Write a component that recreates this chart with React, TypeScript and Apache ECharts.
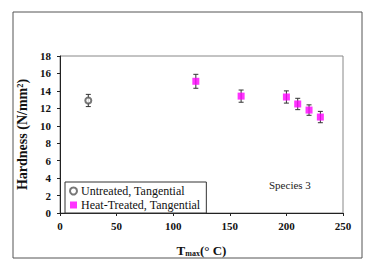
import React, { useEffect, useRef } from "react";
import * as echarts from "echarts";

const untreatedX = [25];
const untreatedY = [12.9];
const untreatedErr = [0.7];

const heatX = [120, 160, 200, 210, 220, 230];
const heatY = [15.1, 13.4, 13.3, 12.5, 11.8, 11.0];
const heatErr = [0.8, 0.7, 0.7, 0.65, 0.6, 0.65];

const xTicks = { min: 0, max: 250, interval: 50 };
const yTicks = { min: 0, max: 18, interval: 2 };

const FONT = "Liberation Serif";

export default function App() {
  const ref = useRef<HTMLDivElement>(null);
  useEffect(() => {
    if (!ref.current) return;
    const chart = echarts.init(ref.current, null, { renderer: "svg" });
    const errData = [
      ...untreatedX.map((x, i) => [x, untreatedY[i] - untreatedErr[i], untreatedY[i] + untreatedErr[i]]),
      ...heatX.map((x, i) => [x, heatY[i] - heatErr[i], heatY[i] + heatErr[i]]),
    ];
    chart.setOption({
      animation: false,
      backgroundColor: "#fff",
      grid: {
        left: 60,
        right: 27,
        top: 56,
        bottom: 49,
        containLabel: false,
        show: true,
        borderColor: "#888",
        borderWidth: 1,
      },
      xAxis: {
        type: "value",
        min: xTicks.min,
        max: xTicks.max,
        interval: xTicks.interval,
        splitLine: { show: false },
        axisLine: { show: true, onZero: false, lineStyle: { color: "#222", width: 1 } },
        axisTick: { show: true, length: 3, lineStyle: { color: "#222" } },
        axisLabel: { color: "#111", fontFamily: FONT, fontWeight: "bold", fontSize: 11, margin: 7 },
        name: "{a|T}{s|max}{a|(° C)}",
        nameLocation: "middle",
        nameGap: 30,
        nameTextStyle: {
          rich: {
            a: { fontFamily: FONT, fontWeight: "bold", fontSize: 13, color: "#111" },
            s: { fontFamily: FONT, fontWeight: "bold", fontSize: 8, color: "#111", padding: [6, 0, 0, 0] },
          },
        },
      },
      yAxis: {
        type: "value",
        min: yTicks.min,
        max: yTicks.max,
        interval: yTicks.interval,
        splitLine: { show: false },
        axisLine: { show: true, onZero: false, lineStyle: { color: "#222", width: 1 } },
        axisTick: { show: true, length: 3, lineStyle: { color: "#222" } },
        axisLabel: { color: "#111", fontFamily: FONT, fontWeight: "bold", fontSize: 11, margin: 9 },
        name: "Hardness (N/mm²)",
        nameLocation: "middle",
        nameGap: 28,
        nameTextStyle: { fontFamily: FONT, fontWeight: "bold", fontSize: 14, color: "#111" },
      },
      legend: {
        data: ["Untreated, Tangential", "Heat-Treated, Tangential"],
        orient: "vertical",
        left: 65,
        top: 182,
        itemWidth: 7,
        itemHeight: 7,
        itemGap: 2,
        padding: [3, 6, 2, 4],
        borderColor: "#333",
        borderWidth: 1,
        borderRadius: 0,
        backgroundColor: "#fff",
        textStyle: { fontFamily: FONT, fontSize: 12, color: "#111", padding: [0, 0, 0, -1] },
      },
      graphic: [
        {
          type: "rect",
          shape: { x: 13, y: 12, width: 349, height: 246 },
          style: { fill: "none", stroke: "#555", lineWidth: 1 },
          z: 100,
          silent: true,
        },
        {
          type: "text",
          x: 269,
          y: 185,
          style: { text: "Species 3", fontFamily: FONT, fontSize: 11, fill: "#222", textVerticalAlign: "middle" },
        },
      ],
      series: [
        {
          type: "custom",
          name: "err",
          z: 1,
          renderItem: (params: any, api: any) => {
            const x = api.value(0);
            const lo = api.coord([x, api.value(1)]);
            const hi = api.coord([x, api.value(2)]);
            const w = 2.5;
            const st = { stroke: "#333", lineWidth: 1 };
            return {
              type: "group",
              children: [
                { type: "line", shape: { x1: lo[0], y1: lo[1], x2: hi[0], y2: hi[1] }, style: st },
                { type: "line", shape: { x1: lo[0] - w, y1: lo[1], x2: lo[0] + w, y2: lo[1] }, style: st },
                { type: "line", shape: { x1: hi[0] - w, y1: hi[1], x2: hi[0] + w, y2: hi[1] }, style: st },
              ],
            };
          },
          data: errData,
        },
        {
          type: "scatter",
          name: "Untreated, Tangential",
          symbol: "emptyCircle",
          symbolSize: 6,
          z: 3,
          itemStyle: { color: "#555", borderColor: "#555", borderWidth: 1 },
          data: untreatedX.map((x, i) => [x, untreatedY[i]]),
        },
        {
          type: "scatter",
          name: "Heat-Treated, Tangential",
          symbol: "rect",
          symbolSize: 7,
          z: 3,
          itemStyle: { color: "#ff00ff" },
          data: heatX.map((x, i) => [x, heatY[i]]),
        },
      ],
    });
    return () => chart.dispose();
  }, []);
  return (
    <div
      ref={ref}
      style={{ position: "fixed", left: 0, top: 0, width: 370, height: 262 }}
    />
  );
}
